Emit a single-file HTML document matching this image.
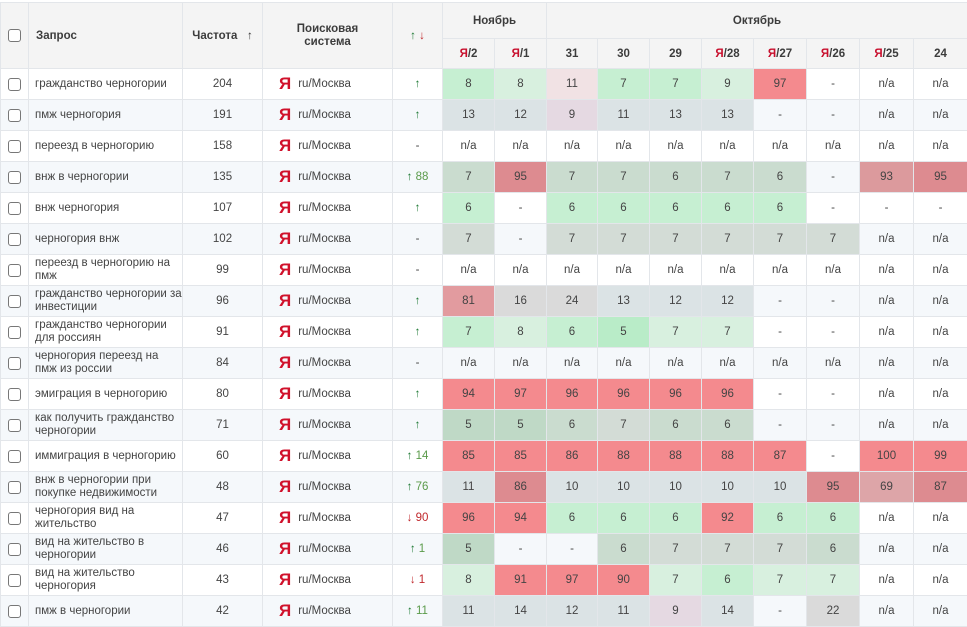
<!DOCTYPE html>
<html><head><meta charset="utf-8"><style>
body{margin:0;background:#fff;width:967px;height:625px;overflow:hidden;font-family:"Liberation Sans","Noto Sans CJK SC",sans-serif;color:#444;font-size:11.5px}
table{position:absolute;left:0;top:2px;border-collapse:collapse;table-layout:fixed;width:967px}
td,th{border:1px solid #e3e6ea;padding:0;text-align:center;overflow:hidden}
th{background:#f4f4f4;color:#3c3c3c;font-size:11.5px;font-weight:bold}
tr.h1 th{height:35px}tr.h2 th{height:29px}
tbody tr td{height:30px}
tbody tr:nth-child(even) td{background:#f5f8fb}
td.q{text-align:left;padding-left:6px;line-height:13px}
.cb{display:inline-block;width:11px;height:11px;border:1px solid #777;border-radius:3px;background:#fff;vertical-align:middle}
.se{text-align:left;padding-left:16px}
.ya{color:#d0112b;font-family:"Liberation Sans",sans-serif;font-weight:bold;font-size:17px;margin-right:7px;vertical-align:-2px}
.yh{color:#c8102e}
.up{color:#1f7a35}.dn{color:#c0282c}.num{color:#5a9a4a}.numr{color:#c0282c}
tbody tr td.g{background:#c6efd2}
tbody tr td.l{background:#d8f0df}
tbody tr td.G{background:#b9ecc8}
tbody tr td.r{background:#f48a8e}
tbody tr td.p{background:#f1e2e4}
tbody tr td.b{background:#dbe3e5}
tbody tr td.m{background:#e5d9e2}
tbody tr td.x{background:#dadada}
tbody tr:nth-child(even) td.g{background:#cadccf}
tbody tr:nth-child(even) td.G{background:#bfd9c6}
tbody tr:nth-child(even) td.y{background:#d3dcd6}
tbody tr:nth-child(even) td.r{background:#dd8b90}
tbody tr:nth-child(even) td.s{background:#dc9a9d}
tbody tr:nth-child(even) td.t{background:#dda5a8}
tbody tr:nth-child(even) td.k{background:#e29b9f}
</style></head><body>
<table>
<colgroup><col style="width:28px"><col style="width:154px"><col style="width:80px"><col style="width:130px"><col style="width:50px"><col style="width:52px"><col style="width:52px"><col style="width:51px"><col style="width:52px"><col style="width:52px"><col style="width:52px"><col style="width:53px"><col style="width:53px"><col style="width:54px"><col style="width:54px"></colgroup>
<thead>
<tr class="h1"><th rowspan="2"><span class="cb"></span></th><th rowspan="2" style="text-align:left;padding-left:7px">Запрос</th><th rowspan="2">Частота &nbsp;&nbsp;<span style="font-weight:normal">↑</span></th><th rowspan="2" style="line-height:13px">Поисковая<br>система</th><th rowspan="2"><span class="up">↑</span> <span class="dn">↓</span></th><th colspan="2">Ноябрь</th><th colspan="8">Октябрь</th></tr>
<tr class="h2"><th><span class="yh">Я</span>/2</th><th><span class="yh">Я</span>/1</th><th>31</th><th>30</th><th>29</th><th><span class="yh">Я</span>/28</th><th><span class="yh">Я</span>/27</th><th><span class="yh">Я</span>/26</th><th><span class="yh">Я</span>/25</th><th>24</th></tr>
</thead>
<tbody>
<tr><td><span class="cb"></span></td><td class="q">гражданство черногории</td><td>204</td><td class="se"><span class="ya">Я</span>ru/Москва</td><td><span class="up">↑</span></td><td class="g">8</td><td class="l">8</td><td class="p">11</td><td class="g">7</td><td class="g">7</td><td class="l">9</td><td class="r">97</td><td>-</td><td>n/a</td><td>n/a</td></tr>
<tr><td><span class="cb"></span></td><td class="q">пмж черногория</td><td>191</td><td class="se"><span class="ya">Я</span>ru/Москва</td><td><span class="up">↑</span></td><td class="b">13</td><td class="b">12</td><td class="m">9</td><td class="b">11</td><td class="b">13</td><td class="b">13</td><td>-</td><td>-</td><td>n/a</td><td>n/a</td></tr>
<tr><td><span class="cb"></span></td><td class="q">переезд в черногорию</td><td>158</td><td class="se"><span class="ya">Я</span>ru/Москва</td><td>-</td><td>n/a</td><td>n/a</td><td>n/a</td><td>n/a</td><td>n/a</td><td>n/a</td><td>n/a</td><td>n/a</td><td>n/a</td><td>n/a</td></tr>
<tr><td><span class="cb"></span></td><td class="q">внж в черногории</td><td>135</td><td class="se"><span class="ya">Я</span>ru/Москва</td><td><span class="up">↑</span> <span class="num">88</span></td><td class="g">7</td><td class="r">95</td><td class="g">7</td><td class="g">7</td><td class="g">6</td><td class="g">7</td><td class="g">6</td><td>-</td><td class="s">93</td><td class="r">95</td></tr>
<tr><td><span class="cb"></span></td><td class="q">внж черногория</td><td>107</td><td class="se"><span class="ya">Я</span>ru/Москва</td><td><span class="up">↑</span></td><td class="g">6</td><td>-</td><td class="g">6</td><td class="g">6</td><td class="g">6</td><td class="g">6</td><td class="g">6</td><td>-</td><td>-</td><td>-</td></tr>
<tr><td><span class="cb"></span></td><td class="q">черногория внж</td><td>102</td><td class="se"><span class="ya">Я</span>ru/Москва</td><td>-</td><td class="y g">7</td><td>-</td><td class="y g">7</td><td class="y g">7</td><td class="y g">7</td><td class="y g">7</td><td class="y g">7</td><td class="y g">7</td><td>n/a</td><td>n/a</td></tr>
<tr><td><span class="cb"></span></td><td class="q">переезд в черногорию на пмж</td><td>99</td><td class="se"><span class="ya">Я</span>ru/Москва</td><td>-</td><td>n/a</td><td>n/a</td><td>n/a</td><td>n/a</td><td>n/a</td><td>n/a</td><td>n/a</td><td>n/a</td><td>n/a</td><td>n/a</td></tr>
<tr><td><span class="cb"></span></td><td class="q">гражданство черногории за инвестиции</td><td>96</td><td class="se"><span class="ya">Я</span>ru/Москва</td><td><span class="up">↑</span></td><td class="r k">81</td><td class="x">16</td><td class="x">24</td><td class="b">13</td><td class="b">12</td><td class="b">12</td><td>-</td><td>-</td><td>n/a</td><td>n/a</td></tr>
<tr><td><span class="cb"></span></td><td class="q">гражданство черногории для россиян</td><td>91</td><td class="se"><span class="ya">Я</span>ru/Москва</td><td><span class="up">↑</span></td><td class="g">7</td><td class="l">8</td><td class="g">6</td><td class="G">5</td><td class="l">7</td><td class="l">7</td><td>-</td><td>-</td><td>n/a</td><td>n/a</td></tr>
<tr><td><span class="cb"></span></td><td class="q">черногория переезд на пмж из россии</td><td>84</td><td class="se"><span class="ya">Я</span>ru/Москва</td><td>-</td><td>n/a</td><td>n/a</td><td>n/a</td><td>n/a</td><td>n/a</td><td>n/a</td><td>n/a</td><td>n/a</td><td>n/a</td><td>n/a</td></tr>
<tr><td><span class="cb"></span></td><td class="q">эмиграция в черногорию</td><td>80</td><td class="se"><span class="ya">Я</span>ru/Москва</td><td><span class="up">↑</span></td><td class="r">94</td><td class="r">97</td><td class="r">96</td><td class="r">96</td><td class="r">96</td><td class="r">96</td><td>-</td><td>-</td><td>n/a</td><td>n/a</td></tr>
<tr><td><span class="cb"></span></td><td class="q">как получить гражданство черногории</td><td>71</td><td class="se"><span class="ya">Я</span>ru/Москва</td><td><span class="up">↑</span></td><td class="G">5</td><td class="G">5</td><td class="g">6</td><td class="y">7</td><td class="g">6</td><td class="g">6</td><td>-</td><td>-</td><td>n/a</td><td>n/a</td></tr>
<tr><td><span class="cb"></span></td><td class="q">иммиграция в черногорию</td><td>60</td><td class="se"><span class="ya">Я</span>ru/Москва</td><td><span class="up">↑</span> <span class="num">14</span></td><td class="r">85</td><td class="r">85</td><td class="r">86</td><td class="r">88</td><td class="r">88</td><td class="r">88</td><td class="r">87</td><td>-</td><td class="r">100</td><td class="r">99</td></tr>
<tr><td><span class="cb"></span></td><td class="q">внж в черногории при покупке недвижимости</td><td>48</td><td class="se"><span class="ya">Я</span>ru/Москва</td><td><span class="up">↑</span> <span class="num">76</span></td><td class="b">11</td><td class="r">86</td><td class="b">10</td><td class="b">10</td><td class="b">10</td><td class="b">10</td><td class="b">10</td><td class="r">95</td><td class="r t">69</td><td class="r">87</td></tr>
<tr><td><span class="cb"></span></td><td class="q">черногория вид на жительство</td><td>47</td><td class="se"><span class="ya">Я</span>ru/Москва</td><td><span class="dn">↓</span> <span class="numr">90</span></td><td class="r">96</td><td class="r">94</td><td class="g">6</td><td class="g">6</td><td class="g">6</td><td class="r">92</td><td class="g">6</td><td class="g">6</td><td>n/a</td><td>n/a</td></tr>
<tr><td><span class="cb"></span></td><td class="q">вид на жительство в черногории</td><td>46</td><td class="se"><span class="ya">Я</span>ru/Москва</td><td><span class="up">↑</span> <span class="num">1</span></td><td class="G">5</td><td>-</td><td>-</td><td class="g">6</td><td class="y">7</td><td class="y">7</td><td class="y">7</td><td class="g">6</td><td>n/a</td><td>n/a</td></tr>
<tr><td><span class="cb"></span></td><td class="q">вид на жительство черногория</td><td>43</td><td class="se"><span class="ya">Я</span>ru/Москва</td><td><span class="dn">↓</span> <span class="numr">1</span></td><td class="l">8</td><td class="r">91</td><td class="r">97</td><td class="r">90</td><td class="l">7</td><td class="g">6</td><td class="l">7</td><td class="l">7</td><td>n/a</td><td>n/a</td></tr>
<tr><td><span class="cb"></span></td><td class="q">пмж в черногории</td><td>42</td><td class="se"><span class="ya">Я</span>ru/Москва</td><td><span class="up">↑</span> <span class="num">11</span></td><td class="b">11</td><td class="b">14</td><td class="b">12</td><td class="b">11</td><td class="m">9</td><td class="b">14</td><td>-</td><td class="x">22</td><td>n/a</td><td>n/a</td></tr>
</tbody></table>
</body></html>
